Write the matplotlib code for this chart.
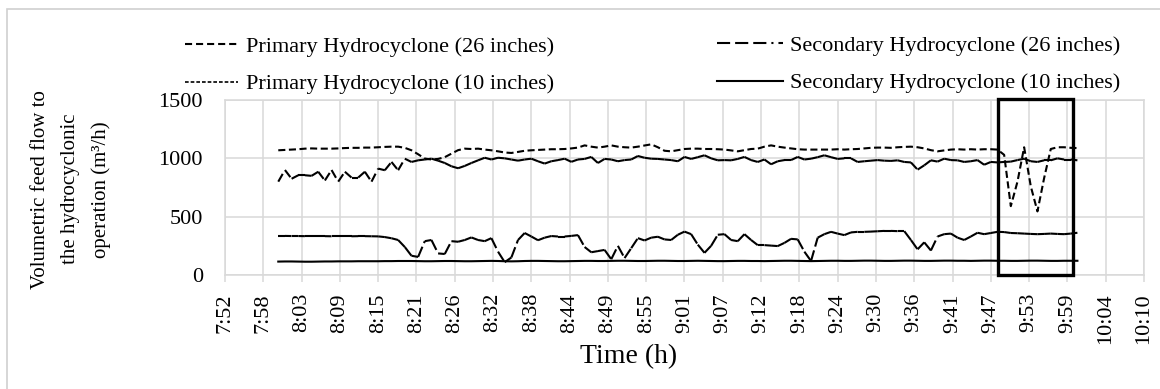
import numpy as np
import matplotlib
matplotlib.use("Agg")
import matplotlib.pyplot as plt
from matplotlib.collections import LineCollection
from matplotlib.lines import Line2D
from matplotlib.patches import Rectangle

plt.rcParams['font.family'] = ['Liberation Serif', 'DejaVu Serif']

# time axis: one reading per minute from 8:00 to 10:00 (minutes after midnight)
time_min = np.arange(480, 601)

primary_26 = [
    1069, 1072, 1075, 1078, 1083, 1085, 1083, 1083, 1083, 1085,
    1088, 1090, 1090, 1092, 1092, 1095, 1098, 1100, 1100, 1090,
    1069, 1035, 998, 990, 995, 1010, 1040, 1070, 1083, 1080,
    1083, 1075, 1069, 1060, 1050, 1046, 1055, 1065, 1069, 1072,
    1075, 1078, 1078, 1080, 1085, 1092, 1111, 1100, 1092, 1100,
    1111, 1100, 1095, 1092, 1100, 1110, 1120, 1095, 1065, 1060,
    1070, 1080, 1083, 1083, 1080, 1080, 1078, 1075, 1068, 1060,
    1070, 1080, 1083, 1100, 1111, 1100, 1092, 1085, 1078, 1075,
    1075, 1075, 1075, 1075, 1078, 1075, 1078, 1080, 1085, 1090,
    1092, 1092, 1090, 1095, 1098, 1100, 1095, 1085, 1070, 1060,
    1068, 1075, 1078, 1075, 1078, 1075, 1078, 1078, 1075, 1030,
    590, 800, 1095, 760, 545, 830, 1080, 1095, 1095, 1090, 1088]

secondary_26 = [
    800, 900, 825, 855, 855, 850, 885, 810, 900, 800,
    885, 835, 835, 885, 800, 912, 898, 969, 898, 997,
    969, 983, 990, 997, 980, 960, 932, 915, 935, 960,
    983, 1005, 990, 1005, 1000, 990, 980, 990, 997, 975,
    955, 975, 985, 997, 970, 990, 995, 1012, 960, 995,
    990, 975, 985, 990, 1020, 1005, 997, 995, 990, 985,
    975, 1012, 995, 1010, 1026, 1000, 983, 985, 983, 995,
    1012, 985, 969, 990, 949, 975, 985, 985, 1012, 990,
    997, 1010, 1026, 1010, 995, 1000, 1000, 969, 975, 980,
    985, 980, 978, 983, 969, 965, 903, 940, 983, 972,
    997, 985, 983, 969, 975, 985, 945, 969, 965, 969,
    972, 985, 997, 975, 969, 983, 983, 1000, 990, 990, 983]

primary_10 = [
    335, 335, 334, 334, 333, 333, 333, 333, 332, 332,
    332, 332, 333, 333, 332, 331, 325, 315, 300, 240,
    165, 155, 290, 300, 185, 180, 290, 285, 300, 322,
    300, 290, 316, 200, 110, 150, 300, 360, 330, 298,
    320, 334, 330, 330, 335, 342, 240, 195, 205, 215,
    135, 250, 145, 230, 316, 296, 320, 328, 305, 300,
    345, 372, 350, 260, 190, 250, 345, 350, 300, 290,
    350, 300, 256, 256, 252, 248, 275, 310, 305, 200,
    120, 320, 350, 370, 355, 342, 365, 370, 370, 372,
    375, 378, 378, 376, 376, 300, 220, 280, 210, 330,
    350, 355, 320, 300, 330, 362, 350, 360, 370, 368,
    360, 358, 355, 352, 350, 352, 355, 352, 350, 355, 362]

secondary_10 = [
    115, 116, 116, 115, 114, 114, 115, 116, 116, 117,
    117, 117, 118, 118, 118, 118, 119, 119, 120, 120,
    120, 119, 118, 118, 119, 120, 120, 119, 118, 118,
    119, 120, 121, 120, 118, 117, 118, 120, 121, 121,
    120, 119, 118, 118, 119, 120, 121, 121, 120, 120,
    121, 122, 122, 121, 120, 120, 121, 122, 122, 121,
    120, 120, 121, 122, 121, 120, 119, 119, 120, 121,
    121, 120, 120, 119, 120, 121, 122, 122, 121, 120,
    119, 120, 121, 122, 122, 121, 121, 122, 123, 123,
    122, 121, 121, 122, 123, 123, 122, 121, 121, 122,
    123, 123, 122, 122, 121, 122, 123, 123, 122, 122,
    121, 121, 122, 123, 123, 122, 121, 121, 122, 122, 122]

tick_labels = ['7:52', '7:58', '8:03', '8:09', '8:15', '8:21', '8:26', '8:32',
               '8:38', '8:44', '8:49', '8:55', '9:01', '9:07', '9:12', '9:18',
               '9:24', '9:30', '9:36', '9:41', '9:47', '9:53', '9:59', '10:04',
               '10:10']

labels = ['Primary Hydrocyclone (26 inches)', 'Primary Hydrocyclone (10 inches)',
          'Secondary Hydrocyclone (26 inches)', 'Secondary Hydrocyclone (10 inches)']

# highlighted window (minutes after midnight) and its height
box_x = [588.1, 599.3]
box_top = 1510

LW = 1.5
GRID = '#d9d9d9'


def add_segments(ax, x, y, dashes):
    # each segment drawn on its own so the dash pattern restarts per point (Excel look)
    pts = np.column_stack([x, y])
    segs = np.stack([pts[:-1], pts[1:]], axis=1)
    lc = LineCollection(segs, colors='black', linewidths=LW,
                        linestyles=[(0, dashes)], capstyle='butt')
    ax.add_collection(lc)


fig = plt.figure(figsize=(11.6, 3.89), dpi=100)
W, H = 1160, 389
ax = fig.add_axes([225 / W, 1 - 275 / H, (1144 - 225) / W, 175 / H])

ax.plot(time_min, primary_26, color='black', lw=LW, dashes=(3.4, 1.7))
add_segments(ax, time_min, secondary_26, (4.3, 2.2))
add_segments(ax, time_min, primary_10, (5.3, 1.9))
ax.plot(time_min, secondary_10, color='black', lw=LW)

ax.add_patch(Rectangle((box_x[0], 0), box_x[1] - box_x[0], box_top,
                       fill=False, edgecolor='black', lw=2.4, clip_on=False, zorder=5))

ticks = np.linspace(472, 610, len(tick_labels))
ax.set_xlim(472, 610)
ax.set_ylim(0, 1500)
ax.set_xticks(ticks)
ax.set_xticklabels(tick_labels, rotation=90, fontsize=16)
ax.set_yticks([0, 500, 1000, 1500])
ax.set_yticklabels(['0', '500', '1000', '1500'], fontsize=16)
ax.tick_params(axis='x', length=5, width=1.1, color=GRID, pad=8)
ax.tick_params(axis='y', length=0, pad=16)
ax.grid(True, color=GRID, lw=1.1)
ax.set_axisbelow(True)
for sp in ax.spines.values():
    sp.set_color(GRID)
    sp.set_linewidth(1.1)

ax.set_xlabel('Time (h)', fontsize=20, va='center')
ax.xaxis.set_label_coords((629 - 225) / 919, -(357 - 275) / 175)
ax.set_ylabel('Volumetric feed flow to\nthe hydrocyclonic\noperation (m³/h)',
              fontsize=15, linespacing=1.75, va='center', ha='center')
ax.yaxis.set_label_coords((71 - 225) / 919, 0.49)

h_p26 = Line2D([], [], color='black', lw=LW, dashes=(3.4, 1.9))
h_p10 = Line2D([], [], color='black', lw=1.2, dashes=(2.2, 1.2))
h_s26 = Line2D([], [], color='black', lw=LW, dashes=(6.3, 2.4, 6.3, 2.4, 6.3, 2.4, 1, 2.4))
h_s10 = Line2D([], [], color='black', lw=LW)

leg_kw = dict(frameon=False, fontsize=16, borderaxespad=0, borderpad=0,
              handletextpad=0.35, labelspacing=0.75, loc='center left')
fig.legend([h_p26, h_p10], labels[:2], handlelength=2.4,
           bbox_to_anchor=(185 / W, 1 - 65.5 / H), **leg_kw)
fig.legend([h_s26, h_s10], labels[2:], handlelength=2.95,
           bbox_to_anchor=(717 / W, 1 - 64.5 / H), **leg_kw)

# chart area border
fig.add_artist(Rectangle((7 / W, -0.1), 1.1, 1 - 9 / H + 0.1, transform=fig.transFigure,
                         fill=False, edgecolor='#d0d0d0', lw=1.2))

fig.savefig('out.png', dpi=100)
